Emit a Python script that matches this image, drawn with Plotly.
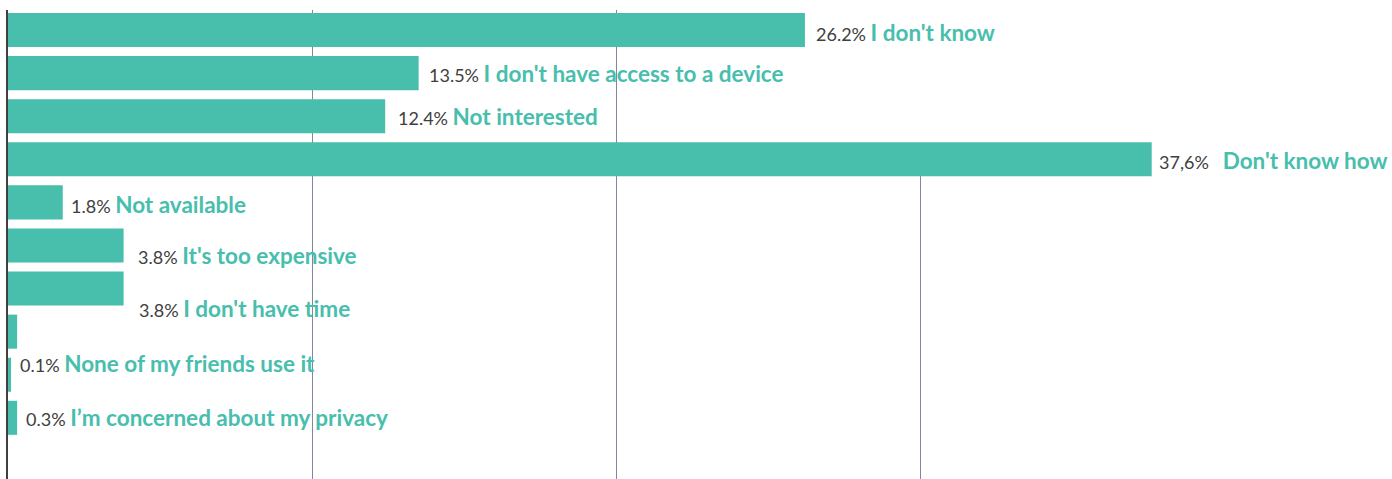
import plotly.graph_objects as go

# Survey: reasons for not using the service (share of respondents, %)
reasons = [
    "I don't know",
    "I don't have access to a device",
    "Not interested",
    "Don't know how",
    "Not available",
    "It's too expensive",
    "I don't have time",
    "Other",
    "None of my friends use it",
    "I’m concerned about my privacy",
]
shares = [26.2, 13.5, 12.4, 37.6, 1.8, 3.8, 3.8, 0.3, 0.1, 0.3]
share_text = ["26.2%", "13.5%", "12.4%", "37,6%", "1.8%", "3.8%", "3.8%", None, "0.1%", "0.3%"]
grid_values = [10, 20, 30]

# Label placement tweaks (pixels): horizontal gap after bar end, vertical shift,
# and extra spacing between the percentage and the reason text
label_dx = [9, 8, 11, 5, 6, 12, 13, 0, 7, 7]
label_dy = [-2, 0, 0, -1, -2, -10, -20, 0, 11, 0]
label_gap = [1, 1, 1, 3, 1, 1, 1, 1, 1, 1]

BAR = "#48BEAD"
NUM = "#404040"
GRID = "#7F899A"
FONT = "Lato"

fig = go.Figure(
    go.Bar(
        x=shares,
        y=reasons,
        orientation="h",
        marker=dict(color=BAR, line=dict(width=0)),
        hoverinfo="skip",
    )
)

for reason, v, t, dx, dy, gap in zip(reasons, shares, share_text, label_dx, label_dy, label_gap):
    if t is None:
        continue
    fig.add_annotation(
        x=v,
        y=reason,
        xref="x",
        yref="y",
        xanchor="left",
        yanchor="middle",
        xshift=dx,
        yshift=dy,
        showarrow=False,
        text=(
            f"<span style='color:{NUM};font-size:18px'>{t}</span>"
            + "&nbsp;" * gap
            + f"<span style='color:{BAR};font-size:22.5px'><b>{reason}</b></span>"
        ),
        font=dict(family=FONT, size=18, color=NUM),
    )

# The 30% gridline is masked above the longest bar
fig.add_shape(
    type="rect",
    xref="x",
    yref="y",
    x0=29.5,
    x1=30.5,
    y0=-0.6,
    y1=3,
    fillcolor="white",
    line=dict(width=0),
    layer="between",
)

fig.update_layout(
    width=1392,
    height=479,
    margin=dict(l=8, r=0, t=10, b=0),
    paper_bgcolor="white",
    plot_bgcolor="white",
    bargap=0.21,
    showlegend=False,
    font=dict(family=FONT),
    xaxis=dict(
        range=[0, 45.5],
        tickvals=grid_values,
        showticklabels=False,
        showgrid=True,
        gridcolor=GRID,
        gridwidth=1,
        zeroline=False,
        showline=False,
        fixedrange=True,
    ),
    yaxis=dict(
        categoryorder="array",
        categoryarray=reasons,
        range=[10.42, -0.465],
        showticklabels=False,
        showgrid=False,
        zeroline=False,
        showline=True,
        linecolor=NUM,
        linewidth=2,
        ticks="",
        fixedrange=True,
    ),
)

fig.write_html("out.html")
